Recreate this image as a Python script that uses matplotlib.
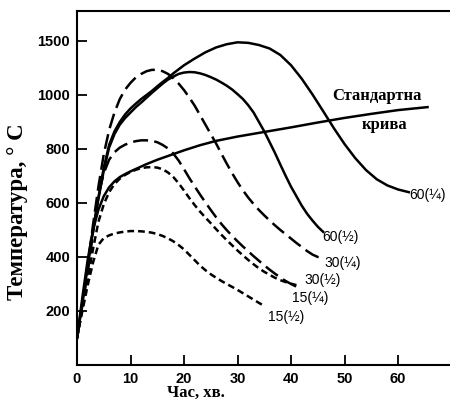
import matplotlib
matplotlib.use("Agg")
import matplotlib.pyplot as plt

# y values are in axis position units: the tick labelled 1500 sits where 1200 would be
std_x = [0, 1, 2, 3, 4, 5, 6, 7, 8, 9, 10, 11, 12, 13, 14, 15, 17, 20, 23, 26, 30, 35, 40, 45, 50, 55, 60, 65.5]
std_y = [100, 250, 390, 500, 575, 625, 658, 680, 696, 707, 717, 726, 735, 744, 752, 760, 774, 795, 814, 830, 846, 863, 880, 898, 915, 930, 944, 955]

c60q_x = [0, 1, 2, 3, 4, 5, 6, 7, 8, 9, 10, 11, 12, 13, 14, 15, 16, 17, 18, 19, 20, 22, 24, 26, 28,
          30, 32, 34, 36, 38, 40, 42, 44, 46, 48, 50, 52, 54, 56, 58, 60, 62]
c60q_y = [100, 230, 370, 500, 620, 730, 815, 865, 900, 928, 950, 968, 985, 1000, 1015, 1032, 1048, 1063, 1080, 1095, 1110, 1135, 1158, 1176, 1188,
          1195, 1193, 1185, 1172, 1148, 1110, 1060, 1002, 940, 877, 818, 766, 722, 688, 665, 650, 640]

c60h_x = [0, 1, 2, 3, 4, 5, 6, 7, 8, 9, 10, 11, 12, 13, 14, 15, 16, 17, 18, 19, 20, 21, 22, 23, 24, 25, 26, 27, 28,
          29, 30, 31, 32, 33, 34, 35, 36, 37, 38, 39, 40, 41, 42, 43, 44, 45, 46]
c60h_y = [100, 230, 370, 500, 615, 720, 805, 855, 890, 915, 935, 955, 972, 990, 1008, 1025, 1042, 1057, 1068, 1078, 1083, 1085, 1084, 1080, 1074, 1066, 1057, 1046, 1034,
          1020, 1003, 985, 962, 935, 900, 865, 825, 785, 742, 700, 660, 625, 590, 560, 535, 512, 493]

c30q_x = [0, 1, 2, 3, 4, 5, 6, 7, 8, 9, 10, 11, 12, 13, 14, 15, 16, 17, 18, 19, 20, 21, 22, 23, 24,
          25, 26, 27, 28, 29, 30, 31, 32, 33, 34, 35, 36, 37, 38, 39, 40, 41, 42, 43, 44, 45, 45.7]
c30q_y = [100, 230, 370, 520, 660, 780, 870, 935, 985, 1020, 1045, 1065, 1078, 1088, 1093, 1093, 1088, 1078, 1062, 1042, 1018, 990, 960, 925, 890,
          855, 820, 782, 745, 710, 677, 647, 620, 596, 574, 554, 535, 517, 500, 484, 468, 452, 437, 422, 409, 400, 396]

c30h_x = [0, 1, 2, 3, 4, 5, 6, 7, 8, 9, 10, 11, 12, 13, 14, 15, 16, 17, 18, 19, 20, 21, 22, 23, 24,
          25, 26, 27, 28, 29, 30, 31, 32, 33, 34, 35, 36, 37, 38, 39, 40, 41]
c30h_y = [100, 220, 340, 490, 630, 710, 760, 788, 805, 816, 824, 829, 832, 832, 830, 825, 815, 802, 783, 757, 725, 692, 661, 631, 602,
          574, 547, 522, 499, 478, 458, 439, 421, 403, 386, 369, 353, 338, 324, 311, 300, 290]

c15q_x = [0, 1, 2, 3, 4, 5, 6, 7, 8, 9, 10, 11, 12, 13, 14, 15, 16, 17, 18, 19, 20, 21, 22, 23, 24,
          25, 26, 27, 28, 29, 30, 31, 32, 33, 34, 35, 36, 37, 38, 39, 40, 41]
c15q_y = [100, 210, 320, 430, 530, 595, 640, 670, 690, 704, 715, 723, 729, 732, 733, 731, 725, 713, 696, 673, 646, 618, 592, 568, 546,
          525, 503, 482, 462, 443, 424, 406, 389, 373, 358, 345, 334, 323, 314, 307, 301, 296]

c15h_x = [0, 1, 2, 3, 4, 5, 6, 7, 8, 9, 10, 11, 12, 13, 14, 15, 16, 17, 18, 19, 20, 21, 22, 23, 24,
          25, 26, 27, 28, 29, 30, 31, 32, 33, 34, 34.7]
c15h_y = [100, 200, 295, 380, 445, 470, 480, 487, 491, 494, 496, 496, 495, 493, 490, 485, 478, 469, 458, 444, 428, 408, 388, 368, 351,
          336, 323, 311, 300, 289, 278, 266, 254, 242, 230, 222]

curve_labels = ["60(¼)", "60(½)", "30(¼)", "30(½)", "15(¼)", "15(½)"]
label_x = [62.1, 45.9, 46.3, 42.5, 40.1, 35.6]
label_y = [630, 474, 378, 315, 248, 178]

yticks = [200, 400, 600, 800, 1000, 1200]
ytick_labels = ["200", "400", "600", "800", "1000", "1500"]
xticks = [0, 10, 20, 30, 40, 50, 60]

fig = plt.figure(figsize=(4.5, 4.07), dpi=100)
ax = fig.add_axes([0.1711, 0.1032, 0.8289, 0.8698])

lw = 1.8
long_dash = (6.0, 2.5)
short_dash = (2.7, 1.6)

ax.plot(std_x, std_y, color="black", lw=lw)
ax.plot(c60q_x, c60q_y, color="black", lw=lw)
ax.plot(c60h_x, c60h_y, color="black", lw=lw)
ax.plot(c30q_x, c30q_y, color="black", lw=lw, dashes=long_dash)
ax.plot(c30h_x, c30h_y, color="black", lw=lw, dashes=long_dash)
ax.plot(c15q_x, c15q_y, color="black", lw=lw, dashes=short_dash)
ax.plot(c15h_x, c15h_y, color="black", lw=lw, dashes=short_dash)

for t, x, y in zip(curve_labels, label_x, label_y):
    ax.text(x, y, t, fontsize=10, family="Liberation Sans", va="center", ha="left")

ax.text(56, 996, "Стандартна", fontsize=12, family="Liberation Serif",
        fontweight="bold", ha="center", va="center")
ax.text(57.5, 889, "крива", fontsize=12, family="Liberation Serif",
        fontweight="bold", ha="center", va="center")

ax.set_xlim(0, 69.7)
ax.set_ylim(0, 1311)
ax.set_xticks(xticks)
ax.set_yticks(yticks)
ax.set_yticklabels(ytick_labels)
ax.spines["right"].set_visible(False)
for s in ["left", "bottom", "top"]:
    ax.spines[s].set_linewidth(1.5)
ax.tick_params(direction="in", length=7, width=1.3, pad=5)
for lab in ax.get_xticklabels() + ax.get_yticklabels():
    lab.set_fontfamily("Liberation Sans")
    lab.set_fontweight("bold")
    lab.set_fontsize(10.5)

fig.text(18 / 450, 1 - 212 / 407, "Температура, ° С", rotation=90,
         fontsize=16.5, family="Liberation Serif", fontweight="bold",
         ha="center", va="center")
fig.text(196 / 450, 1 - 393 / 407, "Час, хв.", fontsize=12,
         family="Liberation Serif", fontweight="bold", ha="center", va="center")

fig.savefig("out.png", dpi=100)
